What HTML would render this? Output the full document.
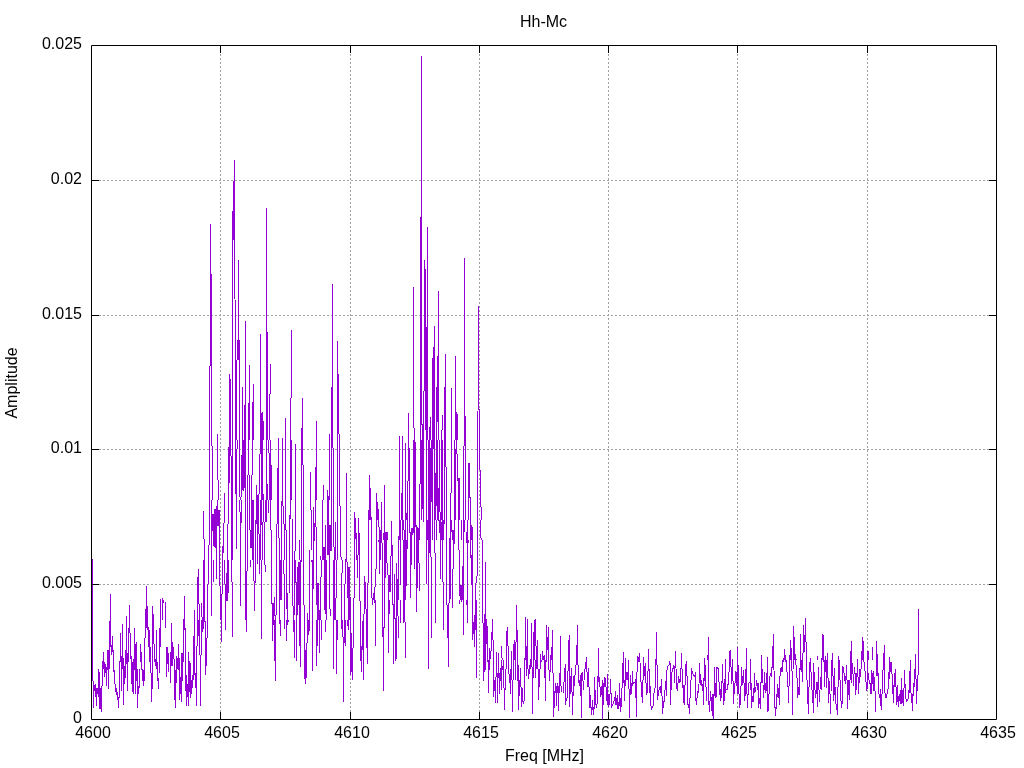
<!DOCTYPE html>
<html><head><meta charset="utf-8"><style>html,body{margin:0;padding:0;background:#fff;width:1024px;height:768px;overflow:hidden}svg{display:block}text{will-change:transform}</style></head>
<body><svg width="1024" height="768" viewBox="0 0 1024 768"><rect width="1024" height="768" fill="#fff"/>
<path d="M220.5 712V52M350.5 712V52M479.5 712V52M608.5 712V52M737.5 712V52M867.5 712V52M99 584.5H989M99 449.5H989M99 315.5H989M99 180.5H989" stroke="#a0a0a0" stroke-width="1" stroke-dasharray="2 2" fill="none"/><path d="M92.5 559V681M93.5 681V708M94.5 685V691M95.5 684V697M96.5 688V706M97.5 688V694M98.5 669V697M99.5 672V709M100.5 688V709M101.5 686V712M102.5 661V686M103.5 652V669M104.5 662V677M105.5 664V673M106.5 667V686M107.5 650V670M108.5 650V689M109.5 621V669M110.5 594V647M111.5 645V655M112.5 636V652M113.5 650V672M114.5 670V684M115.5 684V692M116.5 688V695M117.5 692V700M118.5 697V708M119.5 661V698M120.5 633V662M121.5 656V691M122.5 624V669M123.5 658V705M124.5 666V684M125.5 650V678M126.5 616V664M127.5 653V691M128.5 628V662M129.5 605V633M130.5 633V659M131.5 656V684M132.5 662V692M133.5 659V694M134.5 628V670M135.5 644V694M136.5 642V681M137.5 669V708M138.5 686V694M139.5 669V688M140.5 644V662M141.5 652V670M142.5 669V681M143.5 670V686M144.5 638V681M145.5 609V638M146.5 586V628M147.5 606V630M148.5 627V647M149.5 630V662M150.5 647V673M151.5 673V702M152.5 606V689M153.5 614V644M154.5 644V662M155.5 659V666M156.5 630V669M157.5 662V681M158.5 678V689M159.5 628V673M160.5 599V647M162.5 598V620M163.5 600V603M165.5 602V628M166.5 647V677M167.5 647V664M168.5 653V672M170.5 652V683M171.5 623V666M172.5 642V666M173.5 647V659M174.5 659V700M175.5 670V708M176.5 656V683M177.5 658V669M178.5 644V670M179.5 658V700M180.5 677V694M181.5 653V702M182.5 653V681M183.5 619V662M184.5 596V630M185.5 628V691M186.5 675V706M187.5 684V697M188.5 652V706M189.5 661V692M190.5 663V698M191.5 680V694M192.5 675V688M193.5 636V680M194.5 610V675M195.5 673V688M196.5 646V706M197.5 577V646M198.5 569V604M198.5 620V636M199.5 604V655M200.5 655V706M201.5 603V617M201.5 620V655M202.5 617V632M203.5 511V539M203.5 560V629M204.5 539V622M205.5 621V675M206.5 638V666M207.5 584V638M208.5 545V584M209.5 366V545M210.5 224V366M211.5 274V446M211.5 500V616M212.5 446V500M212.5 514V531M213.5 514V546M213.5 560V582M214.5 509V547M215.5 509V548M216.5 506V579M217.5 434V480M217.5 500V526M218.5 480V500M218.5 510V526M219.5 510V586M220.5 586V620M221.5 594V642M222.5 546V594M223.5 523V553M224.5 493V523M224.5 560V584M225.5 584V630M226.5 573V601M227.5 524V601M228.5 447V524M228.5 560V593M229.5 374V483M230.5 379V456M231.5 456V582M232.5 211V560M232.5 582V637M233.5 181V240M234.5 160V299M235.5 300V494M236.5 360V440M236.5 449V549M237.5 340V360M237.5 440V449M238.5 260V360M239.5 340V497M239.5 500V512M240.5 497V500M240.5 512V606M241.5 455V497M241.5 500V523M242.5 387V490M243.5 440V491M244.5 405V488M245.5 321V620M246.5 571V632M247.5 475V571M248.5 403V475M249.5 365V440M249.5 475V530M250.5 530V548M250.5 560V567M251.5 475V548M252.5 402V475M252.5 500V560M253.5 384V440M253.5 500V581M254.5 581V611M255.5 520V583M256.5 485V524M257.5 495V564M258.5 494V534M259.5 454V494M259.5 534V574M260.5 334V454M260.5 500V560M261.5 413V525M261.5 560V639M262.5 412V500M262.5 522V560M263.5 421V440M263.5 494V522M264.5 522V565M265.5 500V522M265.5 565V572M266.5 208V522M267.5 332V440M267.5 484V500M268.5 440V453M268.5 500V513M269.5 394V440M269.5 453V500M270.5 364V394M270.5 440V530M271.5 465V500M271.5 530V604M272.5 603V641M273.5 603V625M274.5 597V616M274.5 620V661M275.5 615V681M276.5 524V615M277.5 468V524M278.5 438V538M279.5 538V624M280.5 560V600M280.5 620V636M281.5 501V600M282.5 438V506M283.5 506V524M283.5 560V574M284.5 524V560M284.5 574V629M285.5 418V530M286.5 530V609M286.5 620V641M287.5 593V625M288.5 620V622M289.5 515V593M290.5 398V519M291.5 330V398M291.5 440V500M292.5 519V606M293.5 606V632M294.5 551V615M294.5 620V658M295.5 444V551M295.5 560V583M296.5 582V661M297.5 567V615M298.5 562V605M299.5 540V560M299.5 562V646M300.5 560V667M301.5 428V562M302.5 398V465M303.5 465V605M304.5 605V679M305.5 650V684M306.5 643V678M307.5 613V643M308.5 620V635M309.5 550V631M310.5 472V510M311.5 510V550M311.5 560V562M312.5 560V671M313.5 507V589M314.5 523V541M315.5 467V527M316.5 421V500M316.5 527V605M316.5 620V666M317.5 583V646M318.5 583V620M319.5 610V653M320.5 556V560M320.5 577V620M321.5 560V577M321.5 620V640M322.5 500V560M323.5 485V500M323.5 547V560M324.5 547V610M325.5 525V614M325.5 620V632M326.5 560V620M327.5 490V555M328.5 496V555M329.5 434V500M329.5 525V609M330.5 525V551M330.5 609V616M331.5 387V551M332.5 284V448M333.5 448V547M333.5 560V669M334.5 547V620M335.5 522V560M335.5 598V620M336.5 560V598M336.5 620V674M337.5 341V560M337.5 620V640M338.5 374V434M339.5 434V506M340.5 506V557M341.5 557V560M341.5 573V629M342.5 560V573M342.5 620V637M343.5 637V702M344.5 584V643M345.5 559V584M345.5 620V646M346.5 473V562M347.5 562V598M347.5 620V626M348.5 567V630M349.5 567V620M350.5 597V675M351.5 633V672M352.5 648V680M353.5 598V648M354.5 512V598M355.5 518V539M356.5 533V560M357.5 555V578M358.5 518V555M359.5 533V601M360.5 601V661M361.5 646V672M362.5 621V650M363.5 614V680M364.5 576V614M365.5 582V609M366.5 609V648M367.5 583V664M368.5 510V583M369.5 475V520M370.5 488V520M371.5 517V598M372.5 598V605M373.5 593V600M374.5 587V603M375.5 569V587M375.5 600V646M376.5 493V569M377.5 502V520M378.5 509V527M378.5 540V542M379.5 527V574M380.5 530V560M381.5 502V543M382.5 543V637M383.5 533V540M383.5 627V691M384.5 485V628M385.5 532V578M386.5 532V563M387.5 532V540M387.5 563V575M388.5 575V653M389.5 575V592M389.5 600V614M390.5 556V592M391.5 521V556M392.5 545V605M393.5 604V664M394.5 574V619M395.5 618V661M396.5 563V659M397.5 579V616M398.5 536V600M398.5 616V638M399.5 436V540M400.5 520V585M400.5 600V623M401.5 493V520M402.5 436V540M403.5 520V530M403.5 540V623M404.5 530V622M405.5 443V600M405.5 622V658M406.5 513V520M406.5 540V586M407.5 481V549M408.5 413V481M409.5 448V533M410.5 532V598M411.5 528V565M412.5 528V535M413.5 287V428M413.5 440V533M414.5 428V569M415.5 442V527M416.5 525V612M417.5 527V588M418.5 528V563M419.5 484V540M419.5 563V591M420.5 217V484M421.5 56V425M421.5 440V520M422.5 424V509M423.5 391V522M424.5 260V391M425.5 269V430M426.5 327V584M427.5 227V440M427.5 520V540M428.5 440V669M429.5 427V553M430.5 417V440M430.5 448V557M431.5 440V502M431.5 557V638M432.5 358V540M433.5 347V449M434.5 326V553M435.5 473V520M435.5 553V623M436.5 387V506M436.5 520V540M437.5 356V422M437.5 440V520M438.5 291V440M438.5 488V521M439.5 440V512M439.5 520V533M440.5 512V579M441.5 430V520M441.5 522V540M442.5 415V430M442.5 440V582M443.5 520V540M443.5 582V630M444.5 387V524M445.5 354V467M446.5 467V605M447.5 605V638M448.5 603V667M449.5 538V603M450.5 493V599M451.5 388V493M451.5 520V532M452.5 530V540M452.5 569V608M453.5 530V569M454.5 440V544M455.5 356V440M455.5 449V520M456.5 412V454M457.5 414V440M457.5 454V481M458.5 478V550M459.5 478V520M459.5 550V596M459.5 600V604M460.5 585V600M461.5 520V540M461.5 585V602M462.5 566V600M463.5 446V635M464.5 258V446M464.5 520V532M465.5 416V520M466.5 532V543M466.5 600V605M467.5 520V623M468.5 463V520M468.5 540V543M469.5 463V498M470.5 497V558M471.5 525V540M471.5 555V585M472.5 527V640M473.5 622V634M474.5 615V647M475.5 583V630M476.5 576V583M476.5 600V678M477.5 411V576M478.5 306V410M479.5 409V470M480.5 470V507M480.5 520V538M481.5 507V520M481.5 538V540M482.5 540V623M483.5 623V681M484.5 614V672M485.5 562V670M486.5 619V644M487.5 626V662M488.5 660V693M489.5 648V670M490.5 651V659M491.5 632V651M492.5 619V640M493.5 640V697M494.5 680V691M495.5 677V703M496.5 652V677M497.5 673V703M498.5 653V678M499.5 673V694M500.5 668V681M501.5 646V658M501.5 660V690M502.5 658V660M502.5 666V670M503.5 660V688M504.5 688V710M505.5 669V690M506.5 631V669M507.5 627V646M508.5 646V674M509.5 674V683M510.5 669V694M511.5 651V680M512.5 680V712M513.5 644V680M514.5 640V660M515.5 642V680M516.5 605V642M517.5 630V681M518.5 665V710M519.5 680V696M520.5 668V687M521.5 687V707M522.5 688V702M523.5 701V704M524.5 658V701M525.5 617V660M526.5 646V676M527.5 619V669M528.5 669V679M529.5 665V674M530.5 659V669M531.5 623V667M532.5 667V714M533.5 632V678M534.5 620V660M535.5 619V646M535.5 660V678M536.5 646V669M537.5 640V669M538.5 669V700M539.5 669V687M540.5 654V669M541.5 660V662M542.5 651V660M543.5 656V660M544.5 655V678M545.5 660V701M546.5 625V662M547.5 637V650M548.5 627V670M549.5 670V681M550.5 655V672M551.5 647V660M552.5 630V673M553.5 673V717M554.5 691V708M555.5 683V693M556.5 686V706M557.5 683V693M558.5 686V711M559.5 673V693M560.5 636V686M561.5 686V692M563.5 682V693M564.5 668V682M565.5 664V705M566.5 698V701M567.5 671V698M568.5 640V671M569.5 635V707M570.5 676V694M571.5 668V692M572.5 692V715M573.5 676V696M574.5 675V686M575.5 665V675M576.5 645V665M577.5 625V665M578.5 665V683M579.5 680V686M580.5 675V696M581.5 673V718M582.5 672V681M583.5 681V690M584.5 669V680M585.5 662V669M586.5 657V672M587.5 672V687M588.5 668V687M589.5 687V708M590.5 695V708M591.5 707V715M592.5 700V710M593.5 707V715M594.5 677V709M595.5 690V705M596.5 704V708M597.5 676V704M598.5 648V682M599.5 677V687M600.5 687V697M601.5 686V695M602.5 680V719M603.5 683V705M604.5 677V687M605.5 678V687M606.5 687V701M607.5 674V705M608.5 694V707M609.5 694V705M610.5 679V694M611.5 693V708M612.5 704V706M613.5 701V704M614.5 697V701M615.5 691V705M616.5 698V705M617.5 695V709M618.5 702V709M619.5 683V706M620.5 698V712M621.5 688V707M622.5 663V688M623.5 652V683M624.5 680V701M625.5 658V686M626.5 672V680M627.5 672V680M628.5 660V689M629.5 689V718M630.5 675V695M631.5 683V694M632.5 671V686M633.5 682V684M634.5 682V683M635.5 679V698M636.5 672V717M637.5 656V672M638.5 657V662M639.5 653V662M640.5 663V682M641.5 682V697M642.5 680V703M643.5 657V680M644.5 666V676M645.5 663V683M646.5 683V695M647.5 671V693M648.5 649V671M649.5 669V693M650.5 686V706M651.5 706V710M652.5 706V708M653.5 693V706M654.5 688V693M655.5 659V688M656.5 632V665M657.5 665V700M658.5 690V696M659.5 687V690M660.5 686V693M661.5 679V696M662.5 696V714M663.5 701V708M664.5 690V702M665.5 681V690M666.5 670V696M667.5 666V670M668.5 665V666M669.5 661V665M670.5 663V705M671.5 672V690M672.5 668V672M673.5 665V669M674.5 666V683M675.5 651V668M676.5 669V689M677.5 683V691M678.5 676V683M679.5 679V683M680.5 668V682M681.5 653V669M682.5 669V688M683.5 685V703M684.5 685V705M685.5 664V685M686.5 661V676M687.5 676V705M688.5 704V708M689.5 698V714M690.5 680V698M691.5 668V680M692.5 671V674M693.5 674V676M694.5 675V677M695.5 672V701M696.5 698V705M697.5 691V698M698.5 684V693M699.5 663V683M700.5 674V685M701.5 680V686M702.5 684V691M703.5 678V705M704.5 658V681M705.5 665V687M706.5 687V701M707.5 655V660M708.5 637V705M709.5 701V712M710.5 691V701M711.5 697V711M712.5 694V716M713.5 694V719M714.5 667V696M715.5 683V698M716.5 667V697M717.5 667V669M718.5 668V682M719.5 682V695M720.5 689V701M721.5 681V698M722.5 664V683M723.5 683V705M724.5 679V701M725.5 659V693M726.5 689V690M727.5 684V690M728.5 672V685M729.5 651V672M730.5 650V667M731.5 667V684M732.5 659V681M733.5 681V704M734.5 683V694M735.5 671V683M736.5 672V686M737.5 647V694M738.5 665V694M739.5 694V708M740.5 686V705M741.5 667V686M742.5 676V685M743.5 670V683M744.5 683V701M745.5 669V696M746.5 648V694M747.5 694V708M748.5 683V695M749.5 682V683M750.5 659V690M751.5 683V708M752.5 696V702M753.5 688V702M754.5 673V693M755.5 687V692M756.5 680V686M757.5 683V690M758.5 683V708M759.5 698V704M760.5 682V709M761.5 655V683M762.5 669V683M763.5 685V698M764.5 672V690M765.5 683V693M766.5 673V691M767.5 657V712M768.5 694V711M769.5 676V694M770.5 673V676M771.5 667V677M772.5 646V668M773.5 634V670M774.5 671V708M775.5 707V716M776.5 694V709M777.5 684V697M778.5 688V698M779.5 676V705M780.5 668V676M781.5 667V672M782.5 660V672M783.5 658V662M784.5 649V660M785.5 655V662M786.5 660V672M787.5 672V687M788.5 686V703M789.5 655V686M790.5 640V660M791.5 648V671M792.5 671V715M793.5 626V669M794.5 637V660M795.5 654V665M796.5 659V660M796.5 665V678M797.5 678V698M798.5 687V695M799.5 668V695M800.5 634V670M801.5 660V672M802.5 653V682M803.5 625V653M804.5 635V652M805.5 618V642M806.5 642V680M807.5 680V704M808.5 687V714M809.5 662V687M810.5 658V672M811.5 672V690M812.5 690V703M813.5 663V713M814.5 672V690M815.5 690V698M816.5 682V694M817.5 656V660M817.5 682V707M818.5 667V690M819.5 690V702M820.5 677V689M821.5 658V690M822.5 634V660M823.5 635V662M824.5 660V687M825.5 656V672M826.5 660V688M827.5 653V678M828.5 678V703M829.5 681V694M830.5 694V714M831.5 660V691M832.5 653V676M833.5 676V701M834.5 668V695M835.5 687V704M836.5 704V710M837.5 687V715M838.5 656V687M839.5 660V680M840.5 680V701M841.5 701V708M842.5 666V704M843.5 667V673M844.5 673V681M845.5 676V684M846.5 665V680M847.5 680V709M848.5 680V695M849.5 680V700M850.5 651V680M851.5 641V683M852.5 663V674M853.5 674V686M854.5 667V674M855.5 673V695M856.5 673V690M857.5 659V677M858.5 677V694M859.5 669V683M860.5 669V677M861.5 651V669M862.5 637V660M863.5 641V662M864.5 662V671M865.5 671V682M866.5 682V691M867.5 651V689M868.5 651V660M868.5 673V680M869.5 680V684M870.5 683V694M871.5 670V694M872.5 647V660M872.5 673V684M873.5 671V691M874.5 677V691M875.5 691V712M876.5 641V676M877.5 654V676M878.5 673V694M879.5 694V698M880.5 689V706M881.5 694V710M882.5 670V694M883.5 653V670M884.5 645V693M885.5 693V698M886.5 694V698M887.5 689V694M888.5 672V689M889.5 657V679M890.5 662V672M891.5 662V674M892.5 674V694M893.5 685V703M894.5 673V687M895.5 669V687M896.5 687V705M897.5 685V702M898.5 696V707M899.5 694V701M900.5 690V704M901.5 678V704M902.5 690V703M903.5 688V706M904.5 670V688M905.5 684V699M906.5 699V702M907.5 699V701M908.5 690V699M909.5 671V693M910.5 660V693M911.5 693V703M912.5 694V711M913.5 683V696M914.5 669V687M915.5 654V679M916.5 679V704M917.5 675V691M918.5 609V675" stroke="#9400d3" stroke-width="1" fill="none" shape-rendering="crispEdges"/><path d="M220.5 719v-7M220.5 45v8M350.5 719v-7M350.5 45v8M479.5 719v-7M479.5 45v8M608.5 719v-7M608.5 45v8M737.5 719v-7M737.5 45v8M867.5 719v-7M867.5 45v8M91 584.5h8M996 584.5h-7M91 449.5h8M996 449.5h-7M91 315.5h8M996 315.5h-7M91 180.5h8M996 180.5h-7M91.5 45.5H996.5V719.5H91.5Z" stroke="#000" stroke-width="1" fill="none"/><g font-family="Liberation Sans, sans-serif" font-size="16" fill="#000"><text x="82" y="723" text-anchor="end">0</text><text x="82" y="588" text-anchor="end">0.005</text><text x="82" y="453" text-anchor="end">0.01</text><text x="82" y="319" text-anchor="end">0.015</text><text x="82" y="184" text-anchor="end">0.02</text><text x="82" y="49" text-anchor="end">0.025</text><text x="93" y="737.5" text-anchor="middle">4600</text><text x="222" y="737.5" text-anchor="middle">4605</text><text x="352" y="737.5" text-anchor="middle">4610</text><text x="481" y="737.5" text-anchor="middle">4615</text><text x="610" y="737.5" text-anchor="middle">4620</text><text x="739" y="737.5" text-anchor="middle">4625</text><text x="869" y="737.5" text-anchor="middle">4630</text><text x="998" y="737.5" text-anchor="middle">4635</text><text x="543.5" y="27" text-anchor="middle">Hh-Mc</text><text x="544.5" y="760.5" text-anchor="middle">Freq [MHz]</text><text transform="translate(17 383) rotate(-90) scale(1 1)" text-anchor="middle">Amplitude</text></g>
</svg></body></html>
